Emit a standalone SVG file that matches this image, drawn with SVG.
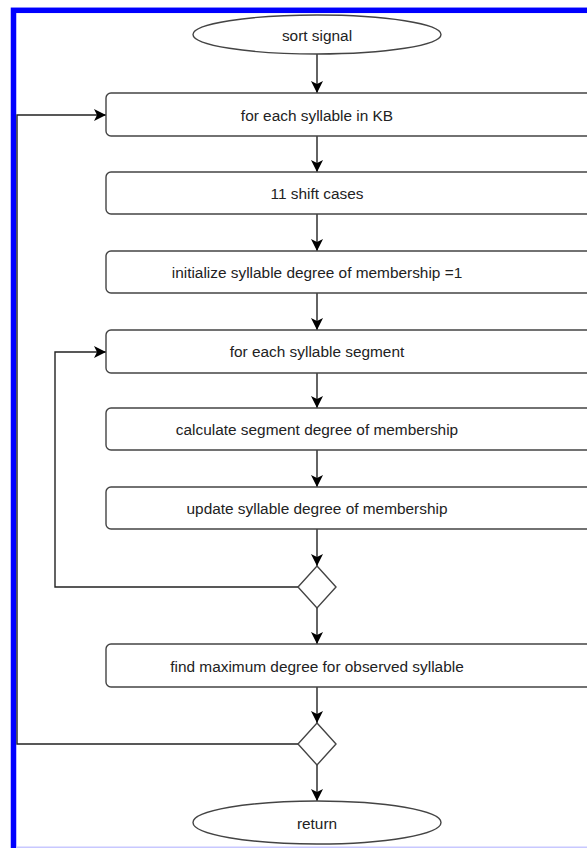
<svg xmlns="http://www.w3.org/2000/svg" width="587" height="848" viewBox="0 0 587 848">
<style>
.box{fill:#fff;stroke:#444;stroke-width:1.4}
.t{font-family:"Liberation Sans",Arial,sans-serif;font-size:15.4px;fill:#222;text-anchor:middle;dominant-baseline:central}
.c{fill:none;stroke:#222;stroke-width:1.4}
</style>
<defs>
<marker id="ah" markerUnits="userSpaceOnUse" markerWidth="14" markerHeight="14" refX="12" refY="6" orient="auto">
<path d="M0,0 L12,6 L0,12 L3,6 Z" fill="#000"/>
</marker>
</defs>
<rect x="0" y="0" width="587" height="848" fill="#fff"/>
<rect x="13.5" y="10.3" width="640" height="860" fill="none" stroke="#0000ff" stroke-width="5.5"/>
<line x1="16" y1="847.3" x2="587" y2="847.3" stroke="#c8c8ff" stroke-width="1.4"/>

<g id="connectors">
<line class="c" x1="317" y1="54" x2="317" y2="93" marker-end="url(#ah)"/>
<line class="c" x1="317" y1="136" x2="317" y2="172" marker-end="url(#ah)"/>
<line class="c" x1="317" y1="214" x2="317" y2="251" marker-end="url(#ah)"/>
<line class="c" x1="317" y1="293" x2="317" y2="330" marker-end="url(#ah)"/>
<line class="c" x1="317" y1="373" x2="317" y2="408" marker-end="url(#ah)"/>
<line class="c" x1="317" y1="450" x2="317" y2="487" marker-end="url(#ah)"/>
<line class="c" x1="317" y1="529" x2="317" y2="566" marker-end="url(#ah)"/>
<line class="c" x1="317" y1="608" x2="317" y2="644" marker-end="url(#ah)"/>
<line class="c" x1="317" y1="687" x2="317" y2="723" marker-end="url(#ah)"/>
<line class="c" x1="317" y1="765" x2="317" y2="801" marker-end="url(#ah)"/>
<polyline class="c" points="298,587 55,587 55,352 106,352" marker-end="url(#ah)"/>
<polyline class="c" points="298,744 17,744 17,115 106,115" marker-end="url(#ah)"/>
</g>

<g id="start"><ellipse class="box" cx="317" cy="34.5" rx="124" ry="19.5"/><text class="t" x="317" y="35">sort signal</text></g>
<g id="n1"><rect class="box" x="106" y="93" width="520" height="43" rx="5"/><text class="t" x="317" y="115">for each syllable in KB</text></g>
<g id="n2"><rect class="box" x="106" y="172" width="520" height="42" rx="5"/><text class="t" x="317" y="193">11 shift cases</text></g>
<g id="n3"><rect class="box" x="106" y="251" width="520" height="42" rx="5"/><text class="t" x="317" y="272.5">initialize syllable degree of membership =1</text></g>
<g id="n4"><rect class="box" x="106" y="330" width="520" height="43" rx="5"/><text class="t" x="317" y="351.5">for each syllable segment</text></g>
<g id="n5"><rect class="box" x="106" y="408" width="520" height="42" rx="5"/><text class="t" x="317" y="429.5">calculate segment degree of membership</text></g>
<g id="n6"><rect class="box" x="106" y="487" width="520" height="42" rx="5"/><text class="t" x="317" y="508.5">update syllable degree of membership</text></g>
<g id="d1"><polygon class="box" points="317,566 336,587 317,608 298,587"/></g>
<g id="n7"><rect class="box" x="106" y="644" width="520" height="43" rx="5"/><text class="t" x="317" y="666">find maximum degree for observed syllable</text></g>
<g id="d2"><polygon class="box" points="317,723 336,744 317,765 298,744"/></g>
<g id="end"><ellipse class="box" cx="317" cy="822.5" rx="124" ry="21.5"/><text class="t" x="317" y="823">return</text></g>
</svg>
